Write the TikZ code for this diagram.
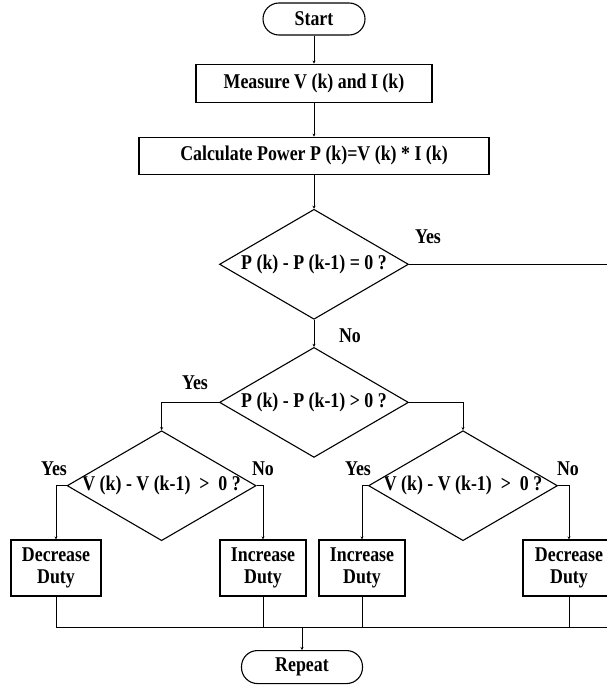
\documentclass[tikz,border=0pt]{standalone}
\usepackage{fontspec}
\setmainfont{Liberation Serif}[FakeStretch=0.85]
\usetikzlibrary{arrows.meta,positioning,shapes.geometric}

% text of a decision node may run over the diamond's sides
\newcommand{\dtext}[1]{\makebox[0pt]{#1}}

\begin{document}
\begin{tikzpicture}[x=1pt,y=-1pt,
		font=\bfseries\fontsize{21}{22}\selectfont,
		Term/.style={rectangle,draw,line width=1.1pt,rounded corners=16pt,minimum height=32pt},
		Process/.style={rectangle,draw,line width=1.1pt,align=center,inner sep=2pt},
		Decision/.style={diamond,draw,line width=1.1pt,inner sep=0pt,minimum width=189pt,minimum height=110pt},
		Lbl/.style={inner sep=1pt},
		Line/.style={line width=1pt},
		Arrow/.style={-{Stealth[length=3pt,width=3pt]},line width=1pt}]
		\useasboundingbox (0,0) rectangle (606,685);
		% main column
		\node[Term,minimum width=102pt] (Start) at (314,19) {Start};
		\node[Process,minimum width=236pt,minimum height=38pt] (Measure) [below=28pt of Start] {Measure V (k) and I (k)};
		\node[Process,minimum width=350pt,minimum height=37pt] (Power) [below=34pt of Measure] {Calculate Power P (k)=V (k) * I (k)};
		\node[Decision] (Zero) [below=34pt of Power] {\dtext{P (k) - P (k-1) = 0 ?}};
		\node[Decision] (Pos) [below=27pt of Zero] {\dtext{P (k) - P (k-1) > 0 ?}};
		% second level
		\node[Decision] (VposL) at (161.6,485.7) {\dtext{V (k) - V (k-1) \ > \ 0 ?}};
		\node[Decision] (VposR) at (463,485.7) {\dtext{V (k) - V (k-1) \ > \ 0 ?}};
		% duty boxes
		\node[Process,minimum width=90pt,minimum height=56pt] (DecL) at (56,568) {Decrease\\Duty};
		\node[Process,minimum width=86pt,minimum height=56pt] (IncL) at (263,568) {Increase\\Duty};
		\node[Process,minimum width=86pt,minimum height=56pt] (IncR) at (362,568) {Increase\\Duty};
		\node[Process,minimum width=92pt,minimum height=56pt] (DecR) at (569,568) {Decrease\\Duty};
		% join and end
		\coordinate (Join) at (302,627);
		\coordinate (BusR) at (640,627);
		\node[Term,minimum width=121pt,minimum height=33pt] (Repeat) [below=23pt of Join] {Repeat};
		% labels
		\node[Lbl] (ZeroYes) at (428,237) {Yes};
		\node[Lbl] (ZeroNo) at (350,336) {No};
		\node[Lbl] (PosYes) at (195,383) {Yes};
		\node[Lbl] (LYes) at (54,469) {Yes};
		\node[Lbl] (LNo) at (263,469) {No};
		\node[Lbl] (RYes) at (358,469) {Yes};
		\node[Lbl] (RNo) at (568,469) {No};
		% connections
		\draw[Arrow] (Start) -- (Measure);
		\draw[Arrow] (Measure) -- (Power);
		\draw[Arrow] (Power) -- (Zero);
		\draw[Arrow] (Zero) -- (Pos);
		\draw[Arrow] (Pos.west) -| (VposL);
		\draw[Arrow] (Pos.east) -| (VposR);
		\draw[Arrow] (VposL.west) -| (DecL);
		\draw[Arrow] (VposL.east) -| (IncL);
		\draw[Arrow] (VposR.west) -| (IncR);
		\draw[Arrow] (VposR.east) -| (DecR);
		\draw[Line] (Zero.east) -| (BusR);
		\draw[Line] (DecL) |- (BusR);
		\foreach \b in {IncL,IncR,DecR}
			\draw[Line] (\b) -- (\b |- Join);
		\draw[Arrow] (Join) -- (Repeat);
	\end{tikzpicture}
\end{document}
